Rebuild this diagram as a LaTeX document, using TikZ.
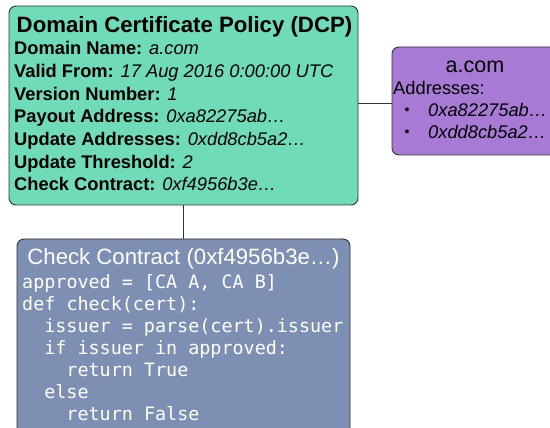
\documentclass[tikz,border=0pt]{standalone}
\usepackage{fontspec}
\setmainfont{Liberation Sans}
\setmonofont{DejaVu Sans Mono}
\definecolor{dcpfill}{HTML}{6FDBB9}
\definecolor{domfill}{HTML}{A87AD6}
\definecolor{chkfill}{HTML}{7E8FB4}
\definecolor{edge}{HTML}{333333}
\tikzset{
  box/.style={draw=edge, line width=0.9pt, rounded corners=7pt, inner sep=0pt},
  ttl/.style={anchor=base, inner sep=0pt, font=\fontsize{22.2}{26}\selectfont},
  lbl/.style={anchor=base west, inner sep=0pt, font=\fontsize{18.3}{22}\selectfont},
  bul/.style={anchor=base, inner sep=0pt, font=\fontsize{14}{18}\selectfont},
  code/.style={anchor=base west, inner sep=0pt, text=white, font=\ttfamily\fontsize{18.4}{22}\selectfont},
  link/.style={draw=edge, line width=0.9pt}
}
\begin{document}
\begin{tikzpicture}[x=1pt,y=-1pt]
\clip (0,0) rectangle (550,428);
% boxes
\node[box, fill=dcpfill, minimum width=349pt, minimum height=199pt] (dcp) at (183.5,105.5) {};
\node[box, fill=domfill, minimum width=168pt, minimum height=108pt] (dom) at (476,101) {};
\node[box, fill=chkfill, minimum width=333pt, minimum height=206pt] (chk) at (183.5,342) {};
% connectors
\draw[link] (dcp.east |- 0,103) -- (dom.west |- 0,103);
\draw[link] (dcp.south -| chk.north) -- (chk.north);
% DCP text
\node[ttl, font=\bfseries\fontsize{22.2}{26}\selectfont] (t1) at (184.5,32.3) {Domain Certificate Policy (DCP)};
\node[lbl] (l1) at (14,55) {\textbf{Domain Name:} \textit{a.com}};
\node[lbl] (l2) at (14,77.6) {\textbf{Valid From:} \textit{17 Aug 2016 0:00:00 UTC}};
\node[lbl] (l3) at (14,100.2) {\textbf{Version Number:} \textit{1}};
\node[lbl] (l4) at (14,122.8) {\textbf{Payout Address:} \textit{0xa82275ab…}};
\node[lbl] (l5) at (14,145.4) {\textbf{Update Addresses:} \textit{0xdd8cb5a2…}};
\node[lbl] (l6) at (14,168) {\textbf{Update Threshold:} \textit{2}};
\node[lbl] (l7) at (14,190.6) {\textbf{Check Contract:} \textit{0xf4956b3e…}};
% domain text
\node[ttl, font=\fontsize{21.5}{24}\selectfont] (d0) at (475,73) {a.com};
\node[lbl] (d1) at (393,95) {Addresses:};
\node[bul] (b1) at (407,115) {•};
\node[lbl] (d2) at (428,117) {\textit{0xa82275ab…}};
\node[bul] (b2) at (407,137) {•};
\node[lbl] (d3) at (428,139) {\textit{0xdd8cb5a2…}};
% check contract text
\node[ttl, text=white] (c0) at (183.5,265) {Check Contract (0xf4956b3e…)};
\node[code] (c1) at (22,288) {approved = [CA A, CA B]};
\node[code] (c2) at (22,310) {def check(cert):};
\node[code] (c3) at (44.1,332) {issuer = parse(cert).issuer};
\node[code] (c4) at (44.1,354) {if issuer in approved:};
\node[code] (c5) at (66.3,376) {return True};
\node[code] (c6) at (44.1,398) {else};
\node[code] (c7) at (66.3,420) {return False};
\end{tikzpicture}
\end{document}
